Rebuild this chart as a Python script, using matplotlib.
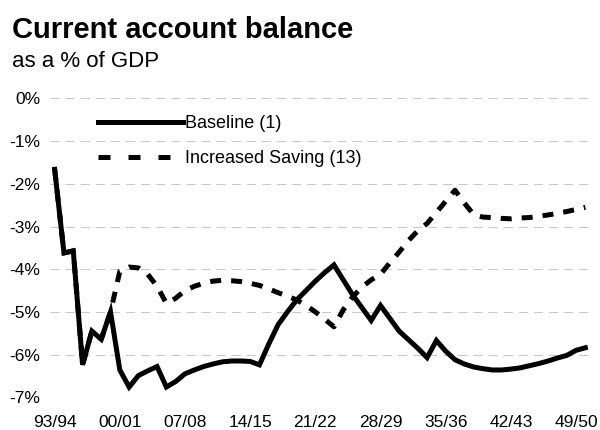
import numpy as np
import matplotlib
matplotlib.use("Agg")
import matplotlib.pyplot as plt
from matplotlib.lines import Line2D

plt.rcParams['font.family'] = ['Liberation Sans', 'DejaVu Sans']

# fiscal years 93/94 .. 50/51
years = [f"{y % 100:02d}/{(y + 1) % 100:02d}" for y in range(1993, 2051)]
tick_labels = ["93/94", "00/01", "07/08", "14/15", "21/22", "28/29", "35/36", "42/43", "49/50"]
ytick_values = [0, -1, -2, -3, -4, -5, -6, -7]
ytick_labels = ["0%", "-1%", "-2%", "-3%", "-4%", "-5%", "-6%", "-7%"]

# current account balance, % of GDP
baseline = [-1.66, -3.62, -3.57, -6.24, -5.45, -5.64, -5.00, -6.36, -6.76, -6.49,
            -6.38, -6.28, -6.76, -6.63, -6.45, -6.36, -6.28, -6.22, -6.17, -6.15,
            -6.15, -6.16, -6.24, -5.75, -5.30, -5.00, -4.72, -4.50, -4.28, -4.08,
            -3.90, -4.25, -4.60, -4.90, -5.20, -4.85, -5.15, -5.45, -5.65, -5.85,
            -6.07, -5.67, -5.92, -6.12, -6.22, -6.29, -6.33, -6.36, -6.36, -6.34,
            -6.31, -6.26, -6.21, -6.15, -6.08, -6.02, -5.90, -5.84]
saving = [-1.66, -3.62, -3.57, -6.24, -5.45, -5.64, -5.00, -4.05, -3.95, -3.97,
          -4.12, -4.40, -4.80, -4.68, -4.50, -4.40, -4.33, -4.28, -4.26, -4.27,
          -4.29, -4.33, -4.38, -4.46, -4.55, -4.63, -4.72, -4.85, -5.00, -5.17,
          -5.35, -4.95, -4.65, -4.42, -4.25, -4.12, -3.85, -3.60, -3.33, -3.10,
          -2.93, -2.67, -2.41, -2.15, -2.45, -2.72, -2.78, -2.79, -2.81, -2.82,
          -2.80, -2.79, -2.76, -2.73, -2.69, -2.65, -2.60, -2.55]

x = np.arange(len(years))

fig = plt.figure(figsize=(6, 4.3), dpi=100)
ax = fig.add_axes([50 / 600, 1 - 397.3 / 430, 540 / 600, (397.3 - 98.4) / 430])

ax.plot(x, baseline, color='black', lw=3.6, solid_joinstyle='miter', clip_on=False)
ax.plot(x, saving, color='black', lw=3.6, linestyle=(0, (2.2, 2.0)),
        dash_capstyle='butt', clip_on=False)

ax.set_xlim(-0.5, len(years) - 0.5)
ax.set_ylim(-7, 0)
ax.set_xticks(x[::7])
ax.set_xticklabels(tick_labels)
ax.set_yticks(ytick_values)
ax.set_yticklabels(ytick_labels)
ax.tick_params(axis='x', length=0, labelsize=12.5, pad=13)
ax.tick_params(axis='y', length=0, labelsize=12.5, pad=7)

ax.yaxis.grid(True, color='#c8c8c8', lw=0.75, linestyle=(0, (8.7, 5.8)))
ax.set_axisbelow(True)
for s in ax.spines.values():
    s.set_visible(False)

handles = [Line2D([], [], color='black', lw=3.6),
           Line2D([], [], color='black', lw=3.6, linestyle=(0, (2.4, 3.6)), dash_capstyle='butt')]
ax.legend(handles, ["Baseline (1)", "Increased Saving (13)"], loc='upper left',
          bbox_to_anchor=(98 / 600, 1 - 115 / 430), bbox_transform=fig.transFigure,
          frameon=False, fontsize=13, handlelength=4.7, handletextpad=0.1,
          labelspacing=1.02, borderpad=0, borderaxespad=0)

fig.text(12 / 600, 1 - 38.5 / 430, "Current account balance", fontsize=21,
         fontweight='bold', va='baseline')
fig.text(12 / 600, 1 - 67 / 430, "as a % of GDP", fontsize=16, va='baseline')

fig.savefig('out.png', dpi=100)
